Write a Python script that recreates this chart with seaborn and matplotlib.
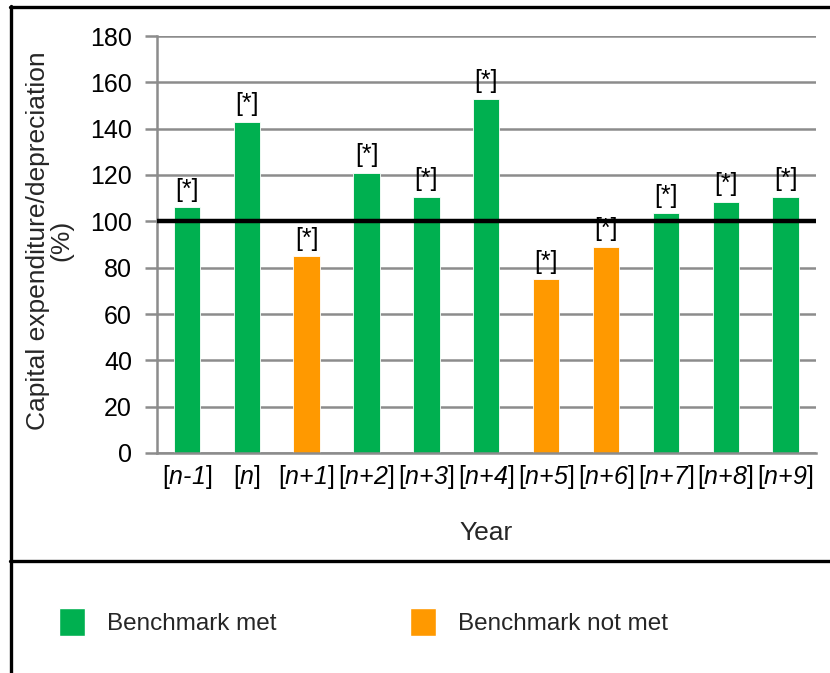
import matplotlib
matplotlib.use("Agg")
import matplotlib.pyplot as plt
from matplotlib.lines import Line2D
from matplotlib.patches import Patch
import seaborn as sns
import pandas as pd

# Capital expenditure as a share of depreciation, by year
years = ["n-1", "n", "n+1", "n+2", "n+3", "n+4", "n+5", "n+6", "n+7", "n+8", "n+9"]
ratio_pct = [106, 143, 85, 121, 110.5, 153, 75, 89, 103.5, 108.5, 110.5]
benchmark = 100
status_labels = ["Benchmark met", "Benchmark not met"]
y_ticks = [0, 20, 40, 60, 80, 100, 120, 140, 160, 180]

GREEN = "#00B050"
ORANGE = "#FF9900"

sns.set_theme(style="white")
plt.rcParams["font.family"] = ["Liberation Sans", "DejaVu Sans"]
# Year placeholders are set in italic (letters and digits alike)
plt.rcParams["mathtext.fontset"] = "custom"
plt.rcParams["mathtext.it"] = "Liberation Sans:italic"
plt.rcParams["mathtext.rm"] = "Liberation Sans:italic"

status = [status_labels[0] if v >= benchmark else status_labels[1] for v in ratio_pct]
df = pd.DataFrame({"year": years, "ratio": ratio_pct, "status": status})

fig = plt.figure(figsize=(8.3, 6.73), dpi=100)
ax = fig.add_axes([157 / 830, 1 - 453 / 673, 658.5 / 830, 417 / 673])

sns.barplot(data=df, x="year", y="ratio", hue="status", hue_order=status_labels,
            palette=[GREEN, ORANGE], saturation=1, dodge=False, width=0.44,
            legend=False, edgecolor="white", linewidth=0.6, ax=ax, zorder=2)

for cont in ax.containers:
    ax.bar_label(cont, labels=["[*]"] * len(cont), padding=4, fontsize=18,
                 color="black", zorder=3)

ax.axhline(benchmark, color="black", lw=3.2, zorder=5)

ax.set_ylim(0, 180)
ax.set_xlim(-0.5, len(years) - 0.5)
ax.set_yticks(y_ticks)
ax.yaxis.grid(True, color="#8c8c8c", lw=1.8, zorder=0)
ax.set_axisbelow(True)

tick_labels = ["[$" + y.replace("-", "\u2010").replace("+", "{+}") + "$]" for y in years]
ax.set_xticks(range(len(years)))
ax.set_xticklabels(tick_labels, fontsize=18)
ax.tick_params(axis="x", length=0, pad=7, colors="black")
ax.tick_params(axis="y", length=9, width=1.8, color="#8c8c8c", pad=9, labelsize=18,
               labelcolor="black", left=True)

for side in ("top", "right"):
    ax.spines[side].set_visible(False)
for side in ("left", "bottom"):
    ax.spines[side].set_color("#8c8c8c")
    ax.spines[side].set_linewidth(1.8)

ax.set_xlabel("Year", fontsize=19, labelpad=22)
ax.set_ylabel("Capital expenditure/depreciation\n(%)", fontsize=19, linespacing=0.95)
ax.yaxis.set_label_coords(-0.127, 0.51)

# Frame around chart and legend panels
lw = 2.4
fig.add_artist(Line2D([10.5 / 830, 10.5 / 830], [0, 1 - 6 / 673], color="black", lw=lw))
fig.add_artist(Line2D([10 / 830, 1], [1 - 7 / 673, 1 - 7 / 673], color="black", lw=lw))
fig.add_artist(Line2D([10 / 830, 1], [1 - 561 / 673, 1 - 561 / 673], color="black", lw=lw))

handles = [Patch(facecolor=GREEN, label=status_labels[0]),
           Patch(facecolor=ORANGE, label=status_labels[1])]
fig.legend(handles=handles, loc="center left", bbox_to_anchor=(59 / 830, 1 - 622 / 673),
           ncol=2, frameon=False, fontsize=17.5, borderpad=0, borderaxespad=0,
           handlelength=1.07, handleheight=1.45, handletextpad=0.9, columnspacing=5.5)

fig.savefig("out.png", dpi=100)
